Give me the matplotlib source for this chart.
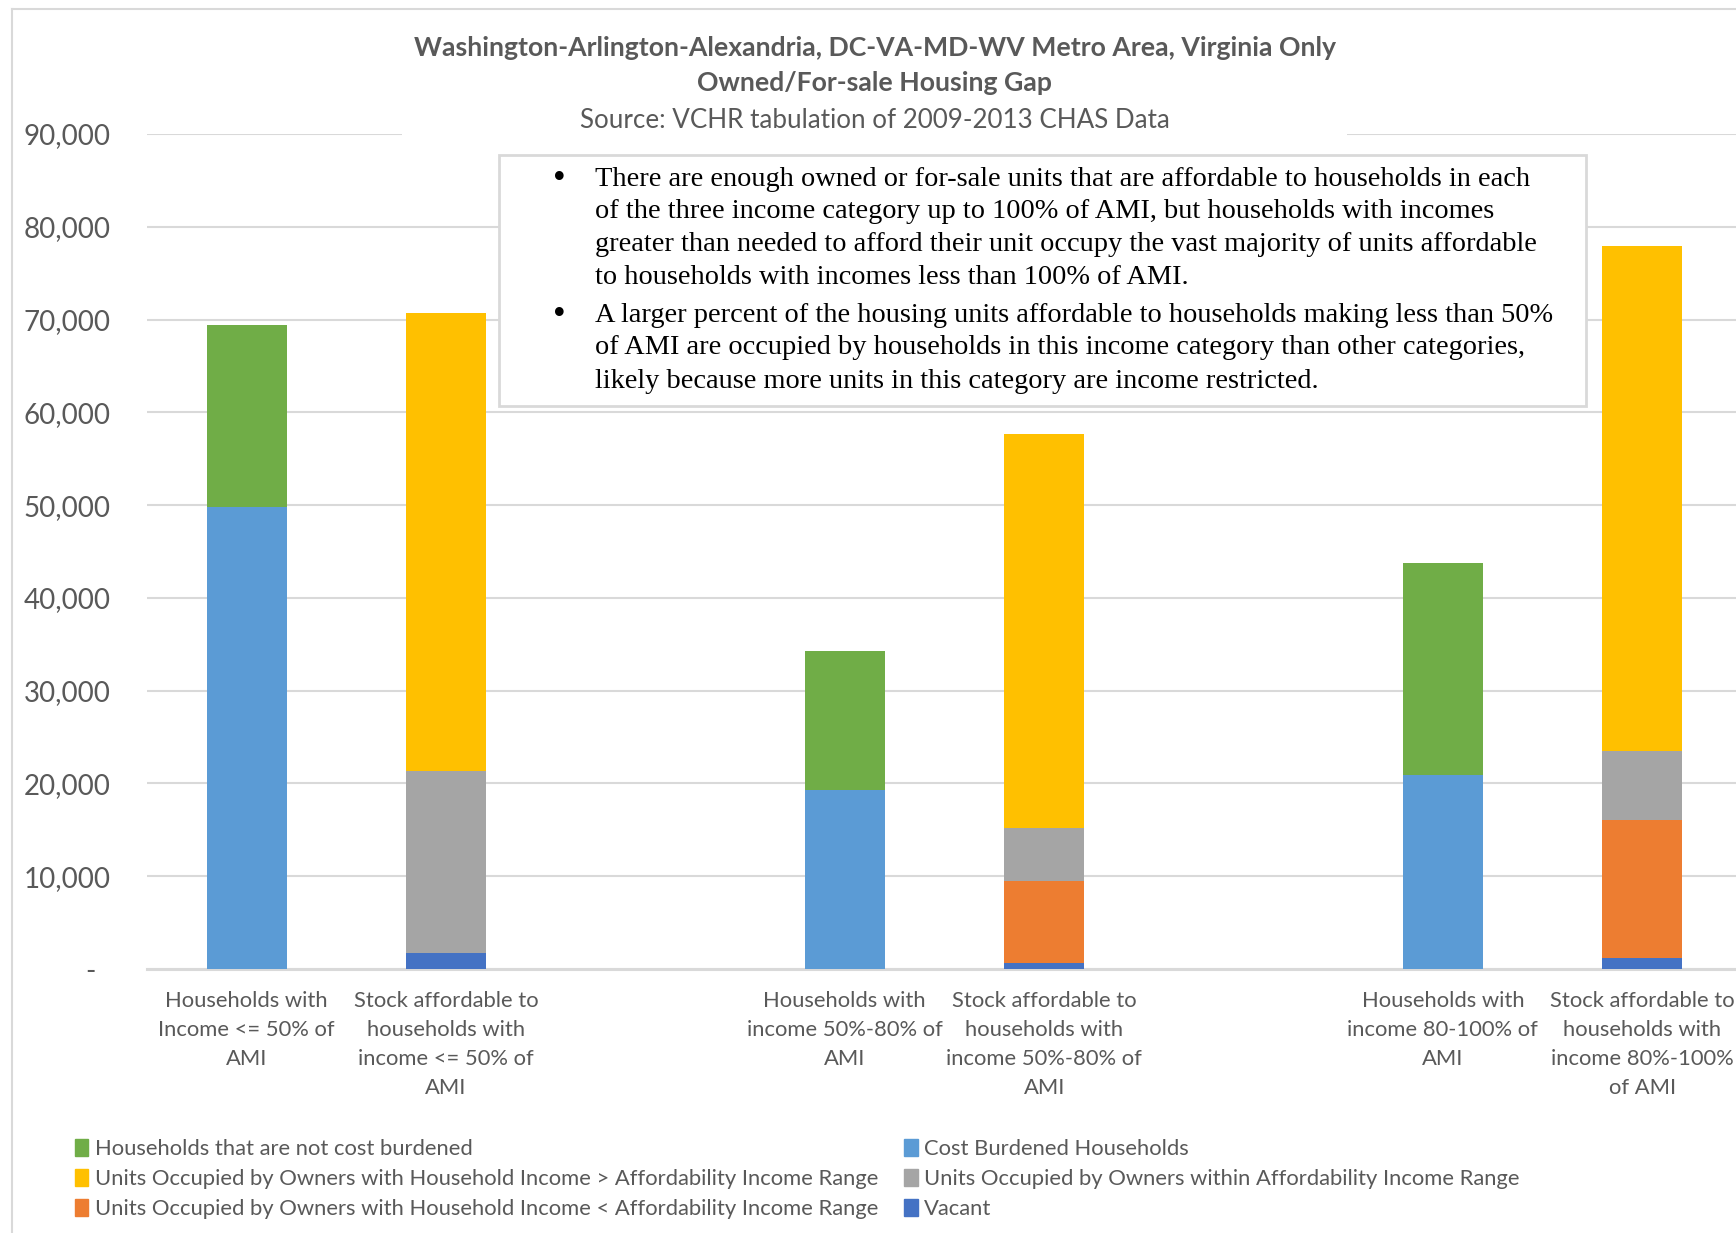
import matplotlib
matplotlib.use("Agg")
import matplotlib.pyplot as plt
from matplotlib.patches import Rectangle, Patch
from matplotlib.lines import Line2D
import numpy as np

# ---- data ----
categories = [
    "Households with\nIncome <= 50% of\nAMI",
    "Stock affordable to\nhouseholds with\nincome <= 50% of\nAMI",
    "",
    "Households with\nincome 50%-80% of\nAMI",
    "Stock affordable to\nhouseholds with\nincome 50%-80% of\nAMI",
    "",
    "Households with\nincome 80-100% of\nAMI",
    "Stock affordable to\nhouseholds with\nincome 80%-100%\nof AMI",
]
slots = [0, 1, 3, 4, 6, 7]
cost_burdened = [49780, 0, 19310, 0, 20950, 0]
not_burdened = [19590, 0, 15010, 0, 22820, 0]
vacant = [0, 1740, 0, 610, 0, 1170]
below_range = [0, 0, 0, 8840, 0, 14900]
within_range = [0, 19650, 0, 5720, 0, 7380]
above_range = [0, 49350, 0, 42520, 0, 54480]

yticks = [0, 10000, 20000, 30000, 40000, 50000, 60000, 70000, 80000, 90000]

title_lines = ["Washington-Arlington-Alexandria, DC-VA-MD-WV Metro Area, Virginia Only",
               "Owned/For-sale Housing Gap"]
source = "Source: VCHR tabulation of 2009-2013 CHAS Data"
bullets = [
    ["There are enough owned or for-sale units that are affordable to households in each",
     "of the three income category up to 100% of AMI, but households with incomes",
     "greater than needed to afford their unit occupy the vast majority of units affordable",
     "to households with incomes less than 100% of AMI."],
    ["A larger percent of the housing units affordable to households making less than 50%",
     "of AMI are occupied by households in this income category than other categories,",
     "likely because more units in this category are income restricted."],
]

COL = {"green": "#70AD47", "blue": "#5B9BD5", "yellow": "#FFC000",
       "gray": "#A5A5A5", "orange": "#ED7D31", "vacant": "#4472C4"}
TXT = "#595959"
GRID = "#D9D9D9"

W, H = 1736, 1233
fig = plt.figure(figsize=(W / 100, H / 100), dpi=100)
ax = fig.add_axes([147 / W, 1 - 969 / H, 1 - 147 / W, (969 - 134) / H])

x = np.array(slots, dtype=float)
bw = 0.4
# household bars
ax.bar(x, cost_burdened, bw, color=COL["blue"], zorder=3)
ax.bar(x, not_burdened, bw, bottom=cost_burdened, color=COL["green"], zorder=3)
# stock bars
b1 = np.array(vacant)
b2 = b1 + np.array(below_range)
b3 = b2 + np.array(within_range)
ax.bar(x, vacant, bw, color=COL["vacant"], zorder=3)
ax.bar(x, below_range, bw, bottom=b1, color=COL["orange"], zorder=3)
ax.bar(x, within_range, bw, bottom=b2, color=COL["gray"], zorder=3)
ax.bar(x, above_range, bw, bottom=b3, color=COL["yellow"], zorder=3)

ax.set_ylim(0, 90000)
ax.set_xlim(-0.5, 7.47)
ax.set_yticks(yticks)
ax.set_yticklabels(["-  "] + [f"{v:,}" for v in yticks[1:]])
ax.set_xticks(range(len(categories)))
ax.set_xticklabels(categories, linespacing=1.55)
ax.tick_params(axis="y", length=0, pad=26, labelsize=20, labelcolor=TXT)
ax.tick_params(axis="x", length=0, pad=16, labelsize=15.8, labelcolor=TXT)
for lab in ax.get_yticklabels() + ax.get_xticklabels():
    lab.set_family("Lato")
ax.grid(axis="y", color=GRID, lw=1.5, zorder=0)
for s in ["top", "right", "left"]:
    ax.spines[s].set_visible(False)
ax.spines["bottom"].set_color(GRID)
ax.spines["bottom"].set_linewidth(2.2)

# white block behind the title (hides the top gridline there)
fig.add_artist(Rectangle((402 / W, 1 - 140 / H), (1347 - 402) / W, 125 / H,
                         transform=fig.transFigure, facecolor="white",
                         edgecolor="none", zorder=5))
fig.text(0.504, 1 - 48 / H, title_lines[0], ha="center", va="center",
         fontsize=19.2, fontweight="bold", color=TXT, family="Lato", zorder=6)
fig.text(0.504, 1 - 83 / H, title_lines[1], ha="center", va="center",
         fontsize=19.2, fontweight="bold", color=TXT, family="Lato", zorder=6)
fig.text(0.504, 1 - 120 / H, source, ha="center", va="center",
         fontsize=18.7, color=TXT, family="Lato", zorder=6)

# annotation box
fig.add_artist(Rectangle((499 / W, 1 - 406 / H), (1586 - 499) / W, (406 - 155) / H,
                         transform=fig.transFigure, facecolor="white",
                         edgecolor=GRID, lw=2, zorder=5))
y0 = [179, 315]
for lines, yt in zip(bullets, y0):
    fig.text(553 / W, 1 - yt / H, "\u2022", ha="left", va="center",
             fontsize=26, color="black", family="Liberation Serif", zorder=6)
    for i, line in enumerate(lines):
        fig.text(595 / W, 1 - (yt + i * 33) / H, line, ha="left", va="center",
                 fontsize=20.4, color="black", family="Liberation Serif", zorder=6)

# legend
handles = [Patch(color=COL["green"]), Patch(color=COL["yellow"]), Patch(color=COL["orange"]),
           Patch(color=COL["blue"]), Patch(color=COL["gray"]), Patch(color=COL["vacant"])]
labels = ["Households that are not cost burdened",
          "Units Occupied by Owners with Household Income > Affordability Income Range",
          "Units Occupied by Owners with Household Income < Affordability Income Range",
          "Cost Burdened Households",
          "Units Occupied by Owners within Affordability Income Range",
          "Vacant"]
leg = fig.legend(handles, labels, ncol=2, loc="upper left",
                 bbox_to_anchor=(75 / W, 1 - 1139 / H), frameon=False,
                 borderpad=0, borderaxespad=0, handlelength=0.6, handleheight=0.8,
                 handletextpad=0.3, columnspacing=1.2, labelspacing=0.45,
                 prop={"family": "Lato", "size": 15.8})
for t in leg.get_texts():
    t.set_color(TXT)

# chart border (top and left edges visible)
fig.add_artist(Line2D([12 / W, 1], [1 - 9 / H, 1 - 9 / H], transform=fig.transFigure,
                      color=GRID, lw=1.5))
fig.add_artist(Line2D([12 / W, 12 / W], [0, 1 - 9 / H], transform=fig.transFigure,
                      color=GRID, lw=1.5))

fig.savefig("out.png", dpi=100)
